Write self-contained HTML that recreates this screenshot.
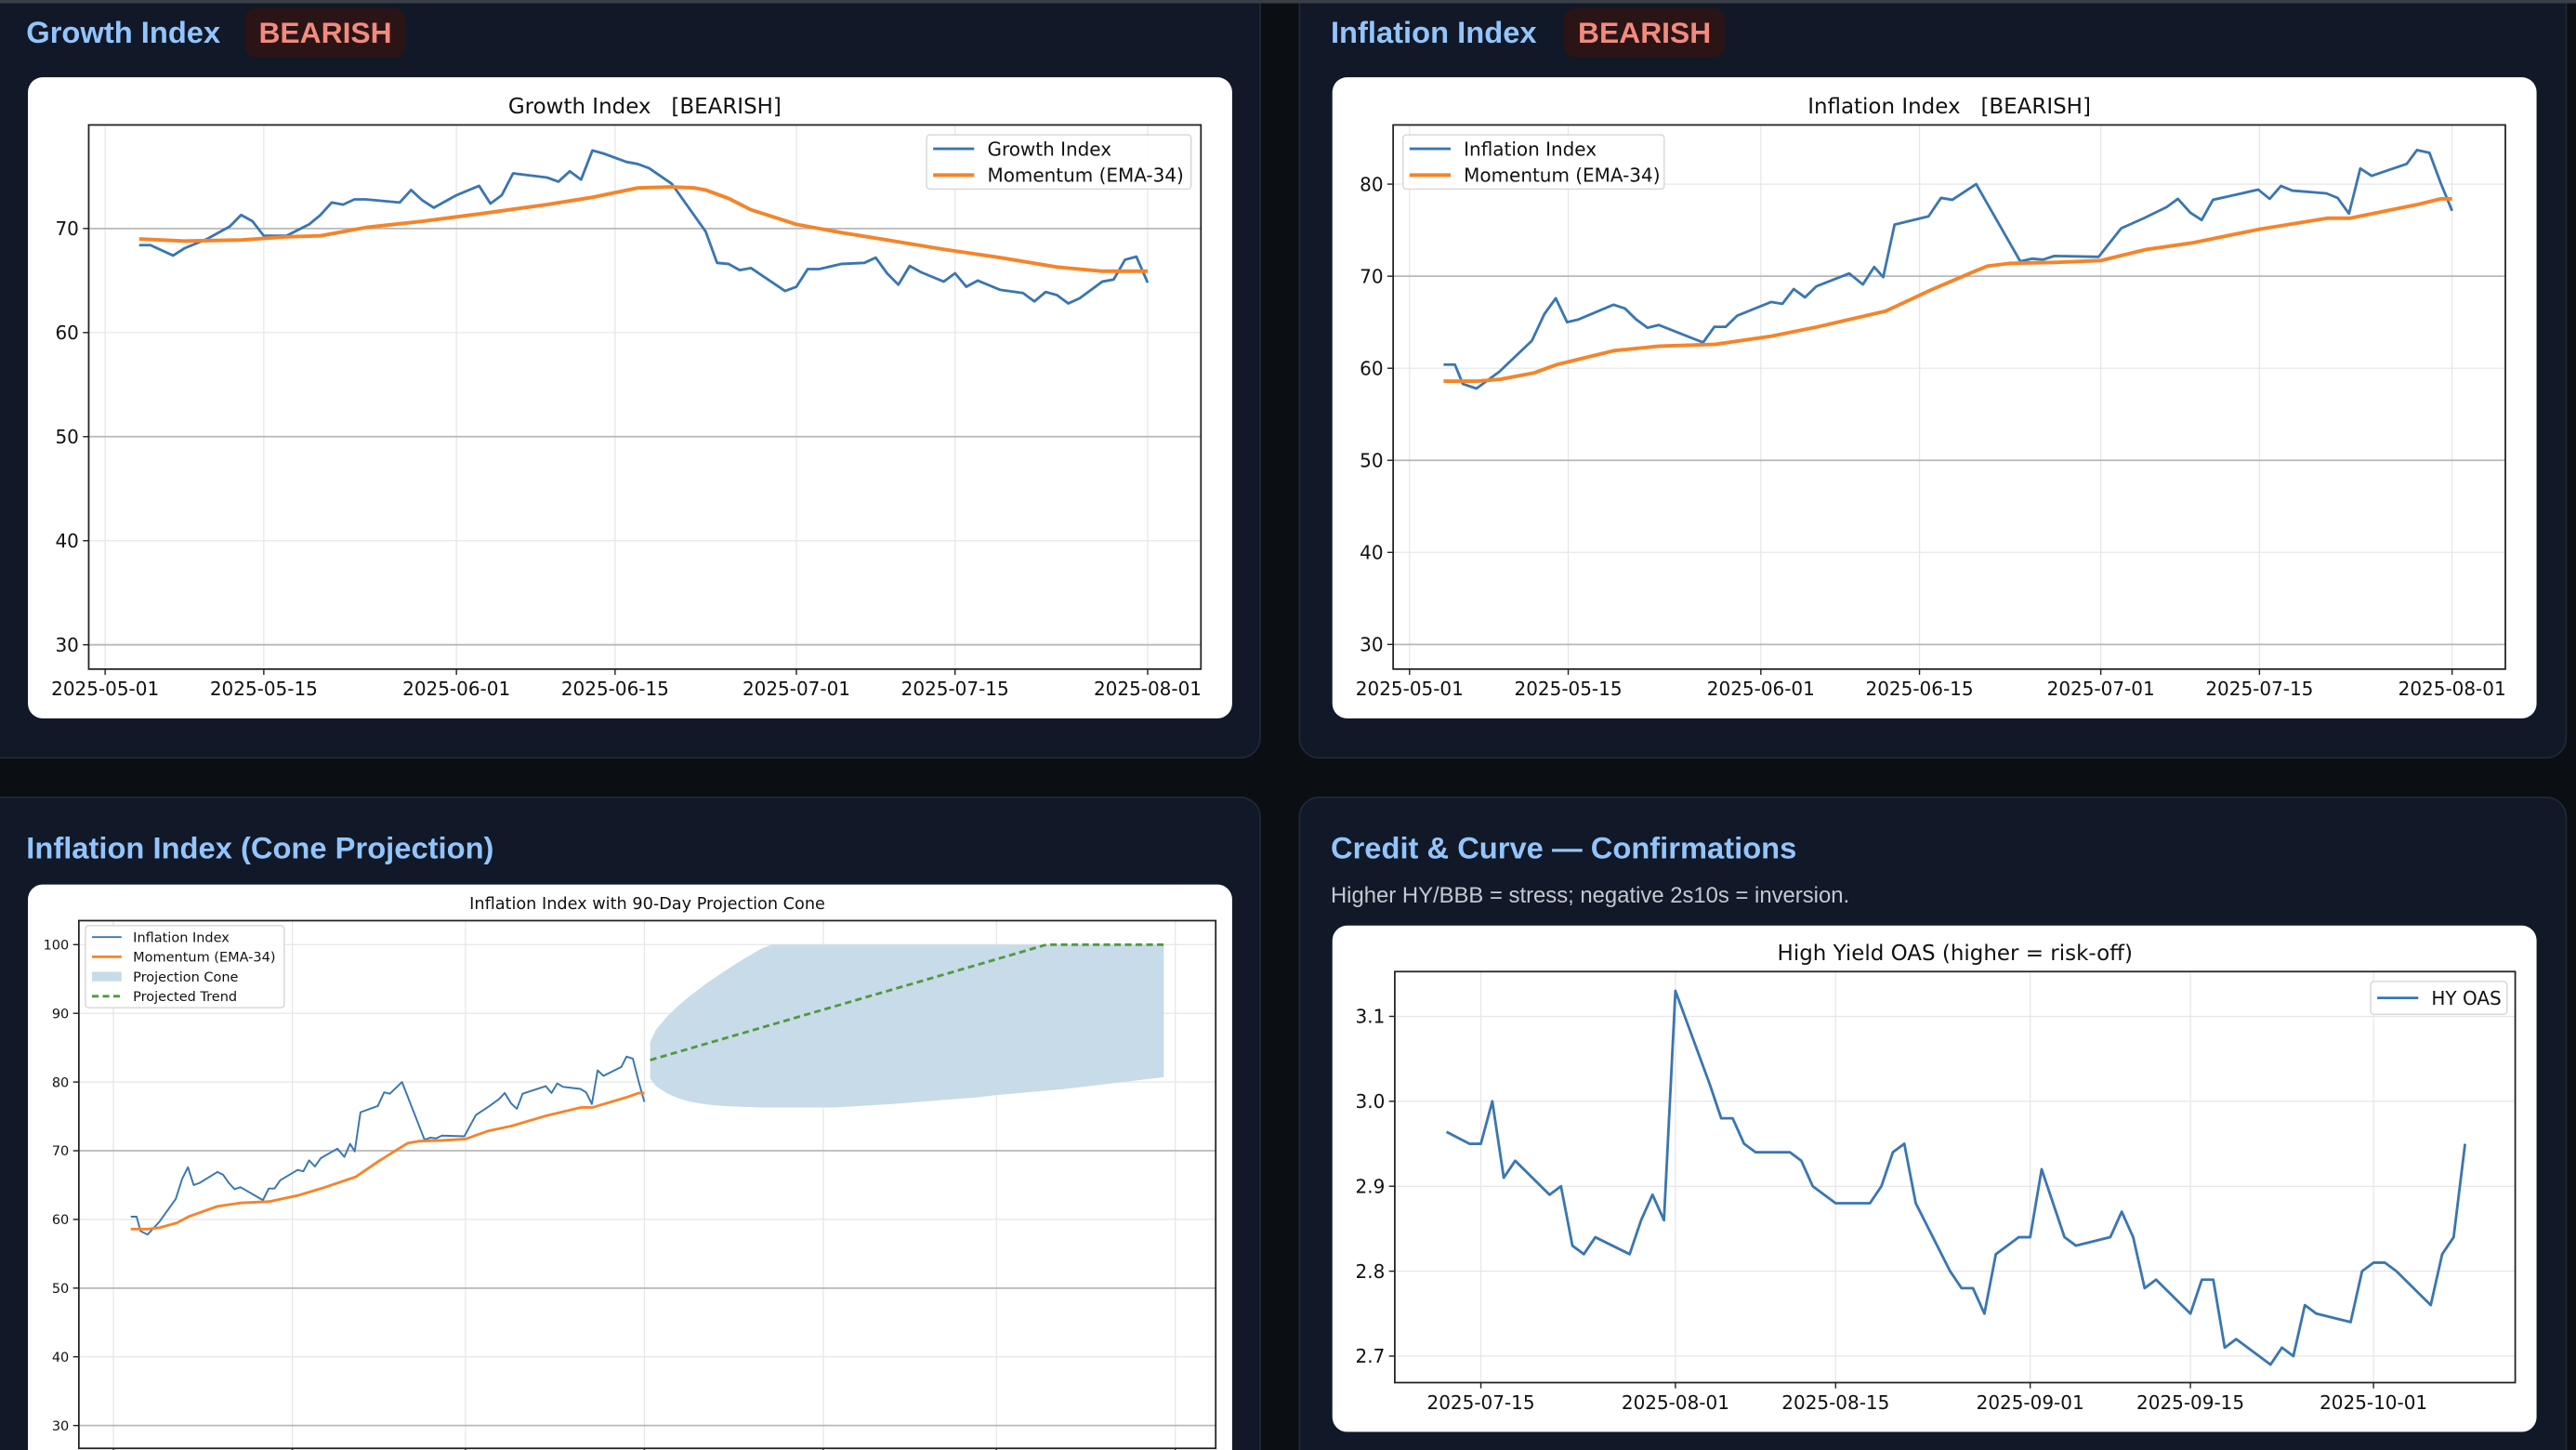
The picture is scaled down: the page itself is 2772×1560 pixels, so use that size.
<!DOCTYPE html>
<html><head><meta charset="utf-8">
<style>
html,body{margin:0;padding:0;background:#0b0e13;width:2772px;height:1560px;overflow:hidden}
svg{display:block}
text{white-space:pre}
</style></head>
<body>
<svg id="root" width="2772" height="1560" viewBox="0 0 1568 882" preserveAspectRatio="none" xmlns="http://www.w3.org/2000/svg">
<rect x="0" y="0" width="1568" height="882" fill="#0b0e13"/>
<!-- panels -->
<rect x="-12" y="-12" width="779" height="473" rx="12" fill="#111827" stroke="#1f2937"/>
<rect x="791" y="-12" width="771" height="473" rx="12" fill="#111827" stroke="#1f2937"/>
<rect x="-12" y="485" width="779" height="420" rx="12" fill="#111827" stroke="#1f2937"/>
<rect x="791" y="485" width="771" height="420" rx="12" fill="#111827" stroke="#1f2937"/>
<rect x="0" y="0" width="1568" height="2" fill="#3a3f47"/>
<g font-family="Liberation Sans, sans-serif" font-weight="bold" font-size="18.5" fill="#93c5fd">
<text x="16" y="26">Growth Index</text>
<text x="810" y="26">Inflation Index</text>
<text x="16" y="522">Inflation Index (Cone Projection)</text>
<text x="810" y="522">Credit &amp; Curve — Confirmations</text>
</g>
<rect x="149" y="5" width="98" height="30" rx="7" fill="#2a1416"/>
<text x="198" y="26" text-anchor="middle" font-family="Liberation Sans, sans-serif" font-weight="bold" font-size="18" fill="#f28b7e">BEARISH</text>
<rect x="952" y="5" width="98" height="30" rx="7" fill="#2a1416"/>
<text x="1001" y="26" text-anchor="middle" font-family="Liberation Sans, sans-serif" font-weight="bold" font-size="18" fill="#f28b7e">BEARISH</text>
<text x="810" y="549" font-family="Liberation Sans, sans-serif" font-size="13.5" fill="#c3c9d2">Higher HY/BBB = stress; negative 2s10s = inversion.</text>
<!-- white cards -->
<rect x="17" y="47" width="733" height="390" rx="9" fill="#fff"/>
<rect x="811" y="47" width="733" height="390" rx="9" fill="#fff"/>
<rect x="17" y="538" width="733" height="380" rx="9" fill="#fff"/>
<rect x="811" y="563" width="733" height="308" rx="9" fill="#fff"/>
<g id="charts"></g>
</svg>
<script>
// ---------- Growth chart data ----------
const growthDays = [3,4,6,7,9,11,12,13,14,16,18,19,20,21,22,23,26,27,28,29,31,33,34,35,36,39,40,41,42,43,44,46,47,48,50,53,54,55,56,57,60,61,62,63,65,67,68,69,70,71,72,74,75,76,77,79,81,82,83,84,85,86,88,89,90,91,92];
const growthValues = [68.4,68.4,67.4,68.1,69.0,70.2,71.3,70.7,69.3,69.3,70.4,71.3,72.5,72.3,72.8,72.8,72.5,73.7,72.7,72.0,73.2,74.1,72.4,73.2,75.3,74.9,74.5,75.5,74.7,77.5,77.2,76.4,76.2,75.8,74.3,69.7,66.7,66.6,66.0,66.2,64.0,64.4,66.1,66.1,66.6,66.7,67.2,65.7,64.6,66.4,65.8,64.9,65.7,64.4,65.0,64.1,63.8,63.0,63.9,63.6,62.8,63.3,64.9,65.1,67.0,67.3,64.8];
const growthEmaDays = [3,7,12,16,19,23,28,33,39,43,47,50,52,53,55,57,59,61,65,69,74,79,84,88,92];
const growthEmaValues = [69.0,68.8,68.9,69.2,69.3,70.1,70.7,71.4,72.3,73.0,73.9,74.0,73.9,73.7,72.9,71.8,71.1,70.4,69.6,68.9,68.0,67.2,66.3,65.9,65.9];
// ---------- Inflation data ----------
const inflDays = [3,4,4.7,5.9,7.9,10.8,11.9,12.9,13.9,14.9,18,19,20,21,22,25.9,26.9,27.9,28.9,31.9,32.9,33.9,34.9,35.9,38.8,40,41,41.8,42.8,45.8,46.9,47.9,50,53.9,54.9,55.9,56.9,60.8,62.8,64.8,66.8,67.8,68.9,69.9,70.9,74.9,75.9,76.9,77.9,80.9,81.9,82.9,83.9,84.9,88,88.9,90,91,92];
const inflValues = [60.4,60.4,58.3,57.8,59.6,63.0,65.9,67.6,65.0,65.3,66.9,66.5,65.3,64.4,64.7,62.8,64.5,64.5,65.7,67.2,67.0,68.6,67.7,68.9,70.3,69.1,71.0,69.9,75.6,76.5,78.5,78.3,80.0,71.6,71.9,71.8,72.2,72.1,75.2,76.3,77.5,78.4,76.9,76.1,78.3,79.4,78.4,79.8,79.3,79.0,78.5,76.8,81.7,80.9,82.2,83.7,83.4,80.1,77.1];
const inflEmaDays = [3,6,8,11,13,18,22,27,32,36,42,46,50,51,53,57,61,65,69,75,81,83,89,91,92];
const inflEmaValues = [58.6,58.6,58.8,59.5,60.4,61.9,62.4,62.6,63.5,64.5,66.2,68.5,70.6,71.1,71.4,71.5,71.7,72.9,73.6,75.1,76.3,76.3,77.8,78.4,78.4];
// ---------- Cone projection ----------
const coneDays = [93,94,96,98,100,103,106,109,112,114,120,125,135,150,153,165,182];
const coneUpper = [85.8,87.6,89.6,91.2,92.6,94.5,96.2,97.8,99.3,100,100,100,100,100,100,100,100];
const coneLower = [80.5,79.4,78.3,77.6,77.1,76.7,76.5,76.4,76.3,76.3,76.3,76.3,76.8,77.8,78.1,79.0,80.7];
const trendDays = [93,161.7,182];
const trendValues = [83.2,100,100];
// ---------- HY OAS ----------
const hyDays = [-3,-1,0,1,2,3,6,7,8,9,10,13,14,15,16,17,20,21,22,23,24,27,28,29,31,34,35,36,37,38,41,42,43,44,45,47,48,49,51,52,55,56,57,58,59,62,63,64,65,66,69,70,71,72,73,76,77,78,79,80,83,84,85,86];
const hyValues = [2.964,2.95,2.95,3.0,2.91,2.93,2.89,2.90,2.83,2.82,2.84,2.82,2.86,2.89,2.86,3.13,3.02,2.98,2.98,2.95,2.94,2.94,2.93,2.90,2.88,2.88,2.90,2.94,2.95,2.88,2.80,2.78,2.78,2.75,2.82,2.84,2.84,2.92,2.84,2.83,2.84,2.87,2.84,2.78,2.79,2.75,2.79,2.79,2.71,2.72,2.69,2.71,2.70,2.76,2.75,2.74,2.80,2.81,2.81,2.80,2.76,2.82,2.84,2.95];
// ---------- Ticks ----------
const topXTickDays = [0,14,31,45,61,75,92];
const topXTickLabels = ['2025-05-01','2025-05-15','2025-06-01','2025-06-15','2025-07-01','2025-07-15','2025-08-01'];
const growthYTicks = [30,40,50,60,70];
const inflYTicks = [30,40,50,60,70,80];
const coneYTicks = [30,40,50,60,70,80,90,100];
const coneXTickDays = [0,31,61,92,123,153,184];
const hyYTicks = [2.7,2.8,2.9,3.0,3.1];
const hyXTickDays = [0,17,31,48,62,78];
const hyXTickLabels = ['2025-07-15','2025-08-01','2025-08-15','2025-09-01','2025-09-15','2025-10-01'];

const NS='http://www.w3.org/2000/svg';
const root=document.getElementById('charts');
const FONT='DejaVu Sans, Liberation Sans, sans-serif';
function mk(tag,attrs,parent){const e=document.createElementNS(NS,tag);for(const k in attrs)e.setAttribute(k,attrs[k]);(parent||root).appendChild(e);return e;}

function chart(c){
  const g=mk('g',{});
  
  
  const sx=d=>c.L+(d-c.x0)/(c.x1-c.x0)*(c.R-c.L);
  const sy=v=>c.B-(v-c.y0)/(c.y1-c.y0)*(c.B-c.T);
  const clipId=c.name+'-clip';
  const cp=mk('clipPath',{id:clipId},g);mk('rect',{x:c.L,y:c.T,width:c.R-c.L,height:c.B-c.T},cp);
  c.xt.forEach(d=>{const l=mk('line',{x1:sx(d),x2:sx(d),y1:c.T,y2:c.B,stroke:'#e6e6e6','stroke-width':0.7},g);
    
    });
  c.yt.forEach(v=>{const dark=c.dark&&c.dark.includes(v);const l=mk('line',{x1:c.L,x2:c.R,y1:sy(v),y2:sy(v),stroke:dark?'#b8b8b8':'#e6e6e6','stroke-width':dark?1:0.7},g);
    
    });
  const plot=mk('g',{'clip-path':'url(#'+clipId+')'},g);
  if(c.cone){
    let pts=c.cone.days.map((d,i)=>sx(d)+','+sy(c.cone.up[i]));
    for(let i=c.cone.days.length-1;i>=0;i--)pts.push(sx(c.cone.days[i])+','+sy(c.cone.lo[i]));
    const p=mk('polygon',{points:pts.join(' '),fill:'#c7dbe9'},plot);
    
    
  }
  c.series.forEach(s=>{
    const p=mk('polyline',{points:s.d.map((d,i)=>sx(d)+','+sy(s.v[i])).join(' '),fill:'none',stroke:s.color,'stroke-width':s.w,'stroke-linejoin':'round','stroke-dasharray':s.dash||'none'},plot);
    
    
  });
  const fr=mk('rect',{x:c.L,y:c.T,width:c.R-c.L,height:c.B-c.T,fill:'none',stroke:'#222','stroke-width':1},g);
  
  
  c.xt.forEach((d,i)=>{mk('line',{x1:sx(d),x2:sx(d),y1:c.B,y2:c.B+3.5,stroke:'#222','stroke-width':0.8},g);
    if(c.xl){const t=mk('text',{x:sx(d),y:c.B+16,'text-anchor':'middle','font-family':FONT,'font-size':c.fs,fill:'#111'},g);t.textContent=c.xl[i];
      
      }});
  c.yt.forEach(v=>{mk('line',{x1:c.L-3.5,x2:c.L,y1:sy(v),y2:sy(v),stroke:'#222','stroke-width':0.8},g);
    const t=mk('text',{x:c.L-6,y:sy(v)+c.fs*0.36,'text-anchor':'end','font-family':FONT,'font-size':c.fs,fill:'#111'},g);t.textContent=c.yfmt?c.yfmt(v):v;
    
    });
  const tt=mk('text',{x:(c.L+c.R)/2,y:c.T-7,'text-anchor':'middle','font-family':FONT,'font-size':c.tfs,fill:'#111'},g);tt.textContent=c.title;
  
  
  const lg=c.legend;
  const lb=mk('rect',{x:lg.x,y:lg.y,width:lg.w,height:lg.h,rx:2,fill:'#fff','fill-opacity':0.85,stroke:'#d6d6d6','stroke-width':0.8},g);
  
  
  lg.items.forEach((it,i)=>{const yy=lg.y+lg.pad+i*lg.step;
    if(it.patch){mk('rect',{x:lg.x+4,y:yy-lg.fs*0.35,width:lg.sw,height:lg.fs*0.7,fill:'#c7dbe9'},g);}
    else mk('line',{x1:lg.x+4,x2:lg.x+4+lg.sw,y1:yy,y2:yy,stroke:it.color,'stroke-width':it.w,'stroke-dasharray':it.dash||'none'},g);
    const t=mk('text',{x:lg.x+8+lg.sw+lg.gap,y:yy+lg.fs*0.36,'font-family':FONT,'font-size':lg.fs,fill:'#111'},g);t.textContent=it.label;
    
    });
}
const BLUE='#3a76b1',ORANGE='#f5842a',GREEN='#4f9a3e';
chart({name:'growth-chart',L:54,R:731,T:76,B:407,x0:-1.45,x1:96.7,y0:70-(407-139)/6.33,y1:70+(139-76)/6.33,
  xt:topXTickDays,xl:topXTickLabels,yt:growthYTicks,dark:[30,50,70],fs:11.3,tfs:13,title:'Growth Index   [BEARISH]',
  series:[{id:'growth-index-line',d:growthDays,v:growthValues,color:BLUE,w:1.6},{id:'growth-ema-line',d:growthEmaDays,v:growthEmaValues,color:ORANGE,w:2.2}],
  legend:{x:564,y:82,w:161,h:33,pad:8.5,step:16,fs:11.3,sw:25,gap:4,items:[{label:'Growth Index',color:BLUE,w:1.6},{label:'Momentum (EMA-34)',color:ORANGE,w:2.2}]}});
chart({name:'inflation-chart',L:848,R:1525,T:76,B:407,x0:-1.45,x1:96.7,y0:30-(407-392)/5.6,y1:80+(112-76)/5.6,
  xt:topXTickDays,xl:topXTickLabels,yt:inflYTicks,dark:[30,50,70],fs:11.3,tfs:13,title:'Inflation Index   [BEARISH]',
  series:[{id:'inflation-index-line',d:inflDays,v:inflValues,color:BLUE,w:1.6},{id:'inflation-ema-line',d:inflEmaDays,v:inflEmaValues,color:ORANGE,w:2.2}],
  legend:{x:854,y:82,w:159,h:33,pad:8.5,step:16,fs:11.3,sw:25,gap:4,items:[{label:'Inflation Index',color:BLUE,w:1.6},{label:'Momentum (EMA-34)',color:ORANGE,w:2.2}]}});
chart({name:'cone-chart',L:48,R:740,T:560,B:881,x0:-6,x1:191,y0:30-(881-867.1)/4.18,y1:100+(574.6-560)/4.18,
  xt:coneXTickDays,xl:null,yt:coneYTicks,dark:[30,50,70],fs:8.2,tfs:10,title:'Inflation Index with 90-Day Projection Cone',
  cone:{days:coneDays,up:coneUpper,lo:coneLower},
  series:[{id:'cone-inflation-line',d:inflDays,v:inflValues,color:BLUE,w:1.1},{id:'cone-ema-line',d:inflEmaDays,v:inflEmaValues,color:ORANGE,w:1.6},{id:'projected-trend-line',d:trendDays,v:trendValues,color:GREEN,w:1.6,dash:'4 2.5'}],
  legend:{x:52,y:563,w:121,h:50,pad:7,step:12,fs:8.2,sw:18,gap:3,items:[{label:'Inflation Index',color:BLUE,w:1.1},{label:'Momentum (EMA-34)',color:ORANGE,w:1.6},{label:'Projection Cone',patch:true},{label:'Projected Trend',color:GREEN,w:1.6,dash:'4 2.5'}]}});
chart({name:'hy-oas-chart',L:849,R:1531,T:591,B:841,x0:-(901.4-849)/6.966,x1:(1531-901.4)/6.966,y0:2.7-(841.5-825.4)/516,y1:3.1+(618.9-591.7)/516,
  xt:hyXTickDays,xl:hyXTickLabels,yt:hyYTicks,fs:11.3,tfs:13,title:'High Yield OAS (higher = risk-off)',yfmt:v=>v.toFixed(1),
  series:[{id:'hy-oas-line',d:hyDays,v:hyValues,color:BLUE,w:1.6}],
  legend:{x:1443,y:597,w:83,h:20,pad:10,step:16,fs:11.3,sw:25,gap:4,items:[{label:'HY OAS',color:BLUE,w:1.6}]}});
</script>
</body></html>
